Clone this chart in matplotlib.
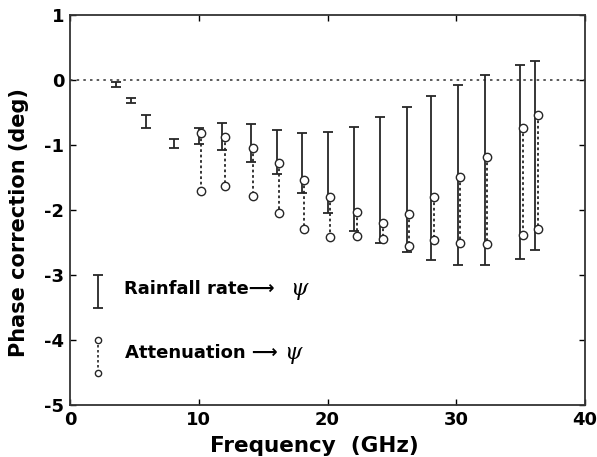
import matplotlib.pyplot as plt

plt.rcParams['font.family'] = ['DejaVu Sans']
plt.rcParams['font.weight'] = 'bold'
plt.rcParams['axes.unicode_minus'] = False

# rainfall-rate bars (upper / lower ends), deg
freq_bar = [3.6, 4.75, 5.9, 8.1, 10.0, 11.8, 14.05, 16.1, 18.0, 20.05,
            22.05, 24.05, 26.15, 28.05, 30.1, 32.2, 34.95, 36.1]
rain_hi = [-0.03, -0.28, -0.54, -0.90, -0.74, -0.66, -0.68, -0.77, -0.82, -0.80,
           -0.72, -0.57, -0.42, -0.25, -0.08, 0.08, 0.23, 0.29]
rain_lo = [-0.10, -0.36, -0.74, -1.05, -0.98, -1.07, -1.26, -1.45, -1.74, -2.05,
           -2.32, -2.50, -2.65, -2.77, -2.85, -2.85, -2.75, -2.62]

# attenuation pairs (circles)
freq_att = [10.15, 12.0, 14.2, 16.25, 18.2, 20.2, 22.3, 24.3, 26.35, 28.3,
            30.3, 32.4, 35.15, 36.35]
att_hi = [-0.81, -0.87, -1.04, -1.28, -1.54, -1.80, -2.03, -2.20, -2.06, -1.80,
          -1.49, -1.18, -0.73, -0.54]
att_lo = [-1.71, -1.63, -1.78, -2.05, -2.29, -2.42, -2.40, -2.45, -2.55, -2.46,
          -2.51, -2.52, -2.39, -2.29]

fig = plt.figure(figsize=(5.97, 4.57), dpi=100)
ax = fig.add_axes([0.1173, 0.1138, 0.8627, 0.8532])

ax.axhline(0, color='0.25', lw=1.2, ls=(0, (1.5, 2.5)))

mid = [(h + l) / 2 for h, l in zip(rain_hi, rain_lo)]
half = [(h - l) / 2 for h, l in zip(rain_hi, rain_lo)]
ax.errorbar(freq_bar, mid, yerr=half, fmt='none', ecolor='0.15',
            elinewidth=1.3, capsize=3.5, capthick=1.3)

for f, h, l in zip(freq_att, att_hi, att_lo):
    ax.plot([f, f], [h, l], color='0.15', lw=1.3, ls=(0, (1.5, 1.5)))
ax.plot(freq_att + freq_att, att_hi + att_lo, 'o', mfc='white', mec='0.15',
        mew=1.0, ms=6, ls='none', zorder=3)

# key
ax.errorbar([2.2], [-3.25], yerr=[0.25], fmt='none', ecolor='0.15',
            elinewidth=1.3, capsize=3.5, capthick=1.3)
ax.plot([2.2, 2.2], [-4.0, -4.5], color='0.15', lw=1.2, ls=(0, (1.5, 1.5)))
ax.plot([2.2, 2.2], [-4.0, -4.5], 'o', mfc='white', mec='0.15', mew=1.0,
        ms=4.5, ls='none')
ax.text(4.2, -3.22, 'Rainfall rate\u27f6', fontsize=13, fontweight='bold',
        va='center', ha='left')
ax.text(17.1, -3.22, '\u03c8', fontsize=16, style='italic', fontweight='normal',
        va='center', ha='left', family=['DejaVu Serif'])
ax.text(4.3, -4.2, 'Attenuation \u27f6', fontsize=13, fontweight='bold',
        va='center', ha='left')
ax.text(16.6, -4.2, '\u03c8', fontsize=16, style='italic', fontweight='normal',
        va='center', ha='left', family=['DejaVu Serif'])

ax.set_xlim(0, 40)
ax.set_ylim(-5, 1)
ax.set_xticks([0, 10, 20, 30, 40])
ax.set_yticks([1, 0, -1, -2, -3, -4, -5])
ax.tick_params(direction='in', length=4, width=1, top=True, right=True,
               labelsize=13, pad=4)
for lab in ax.get_xticklabels() + ax.get_yticklabels():
    lab.set_fontweight('bold')
for s in ax.spines.values():
    s.set_linewidth(1.3)
    s.set_color('0.2')

ax.set_xlabel('Frequency  (GHz)', fontsize=15.5, fontweight='bold')
ax.set_ylabel('Phase correction (deg)', fontsize=15, fontweight='bold')
ax.xaxis.set_label_coords(0.474, -0.08)
ax.yaxis.set_label_coords(-0.079, 0.469)

plt.savefig('out.png', dpi=100)
